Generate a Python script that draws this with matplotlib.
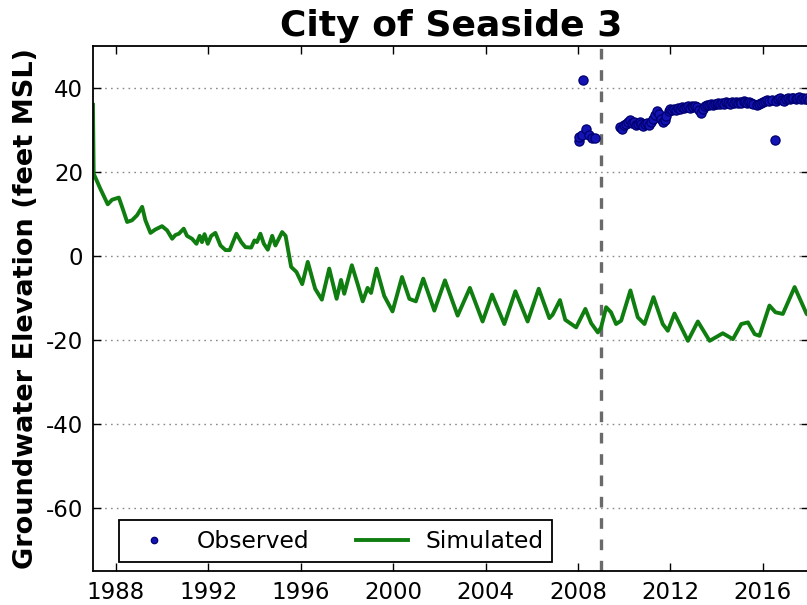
import matplotlib
matplotlib.use("Agg")
import matplotlib.pyplot as plt

# Simulated groundwater elevation (decimal year, feet MSL)
sim_year = [
    1987.00, 1987.03, 1987.32, 1987.64, 1987.83, 1988.12, 1988.26, 1988.48,
    1988.69, 1988.91, 1989.13, 1989.27, 1989.49, 1989.70, 1989.99, 1990.21,
    1990.43, 1990.57, 1990.72, 1990.93, 1991.07, 1991.29, 1991.48, 1991.62,
    1991.72, 1991.83, 1991.97, 1992.12, 1992.30, 1992.52, 1992.74, 1992.92,
    1993.21, 1993.42, 1993.60, 1993.85, 1993.99, 1994.10, 1994.25, 1994.40,
    1994.57, 1994.76, 1994.90, 1995.19, 1995.34, 1995.58, 1995.81, 1996.06,
    1996.30, 1996.62, 1996.91, 1997.23, 1997.55, 1997.74, 1997.88, 1998.21,
    1998.46, 1998.68, 1998.89, 1999.04, 1999.28, 1999.61, 1999.97, 2000.38,
    2000.70, 2000.98, 2001.30, 2001.78, 2002.24, 2002.79, 2003.32, 2003.87,
    2004.28, 2004.81, 2005.29, 2005.82, 2006.30, 2006.76, 2006.90, 2007.22,
    2007.45, 2007.92, 2008.32, 2008.57, 2008.86, 2009.00, 2009.22, 2009.43,
    2009.65, 2009.87, 2010.27, 2010.59, 2010.88, 2011.27, 2011.67, 2011.89,
    2012.18, 2012.76, 2013.19, 2013.70, 2014.27, 2014.71, 2015.07, 2015.36,
    2015.65, 2015.86, 2016.29, 2016.55, 2016.87, 2017.38, 2017.90, 2018.10,
]
sim_ft = [
    36.0, 19.6, 16.0, 12.3, 13.4, 13.9, 11.7, 8.1,
    8.5, 9.7, 11.7, 8.5, 5.5, 6.3, 7.1, 6.1,
    4.1, 5.0, 5.3, 6.5, 4.8, 4.1, 2.9, 4.8,
    3.3, 5.2, 2.9, 4.8, 5.5, 2.5, 1.4, 1.4,
    5.3, 3.3, 2.1, 2.0, 3.7, 3.3, 5.3, 2.9,
    1.5, 4.8, 2.5, 5.7, 4.8, -2.6, -3.8, -6.7,
    -1.4, -7.8, -10.4, -3.0, -10.2, -5.7, -9.0, -2.2,
    -6.7, -10.8, -7.6, -8.8, -3.0, -9.5, -13.2, -5.0,
    -10.2, -10.8, -5.4, -13.0, -5.8, -14.2, -7.6, -15.6,
    -9.2, -16.2, -8.4, -15.6, -7.8, -14.8, -14.0, -10.5,
    -15.2, -17.0, -12.6, -16.0, -18.2, -17.0, -12.2, -13.4,
    -16.2, -15.4, -8.2, -14.6, -16.2, -9.8, -16.2, -17.8,
    -13.7, -20.2, -15.6, -20.2, -18.4, -19.8, -16.2, -15.8,
    -18.6, -19.0, -11.8, -13.4, -13.8, -7.4, -13.8, -14.5,
]

# Observed groundwater elevation (decimal year, feet MSL)
obs_year = [
    2008.04, 2008.06, 2008.19, 2008.23, 2008.36, 2008.49, 2008.62, 2008.74,
    2009.83, 2009.92, 2010.00, 2010.08, 2010.17, 2010.25, 2010.33, 2010.42,
    2010.50, 2010.58, 2010.67, 2010.75, 2010.83, 2010.92, 2011.00, 2011.08,
    2011.17, 2011.25, 2011.33, 2011.42, 2011.50, 2011.58, 2011.67, 2011.75,
    2011.83, 2011.92, 2012.00, 2012.08, 2012.17, 2012.25, 2012.33, 2012.42,
    2012.50, 2012.58, 2012.67, 2012.75, 2012.83, 2012.92, 2013.00, 2013.08,
    2013.17, 2013.25, 2013.33, 2013.42, 2013.50, 2013.58, 2013.67, 2013.75,
    2013.83, 2013.92, 2014.00, 2014.08, 2014.17, 2014.25, 2014.33, 2014.42,
    2014.50, 2014.58, 2014.67, 2014.75, 2014.83, 2014.92, 2015.00, 2015.08,
    2015.17, 2015.25, 2015.33, 2015.42, 2015.50, 2015.58, 2015.75, 2015.83,
    2015.92, 2016.00, 2016.08, 2016.17, 2016.25, 2016.42, 2016.51, 2016.58,
    2016.67, 2016.75, 2016.83, 2016.92, 2017.00, 2017.08, 2017.17, 2017.25,
    2017.33, 2017.42, 2017.50, 2017.58, 2017.67, 2017.75, 2017.83, 2017.92,
    2018.00,
]
obs_ft = [
    27.4, 28.3, 28.7, 42.0, 30.3, 28.7, 28.2, 28.0,
    30.6, 30.3, 31.2, 31.5, 32.0, 32.3, 31.6, 31.9,
    31.2, 31.5, 31.9, 31.4, 31.0, 31.5, 31.7, 31.2,
    31.8, 32.6, 33.6, 34.5, 33.8, 32.6, 32.0, 32.4,
    33.4, 34.5, 35.1, 34.8, 35.0, 34.7, 35.2, 35.0,
    35.4, 35.2, 35.5, 35.6, 35.3, 35.7, 35.5, 35.8,
    35.4, 34.8, 34.1, 35.1, 35.8, 36.0, 35.9, 36.2,
    36.0, 36.3, 36.1, 36.4, 36.2, 36.5, 36.3, 36.6,
    36.4, 36.3, 36.6, 36.5, 36.7, 36.4, 36.6, 36.5,
    36.8, 36.6, 36.4, 36.7, 36.5, 36.3, 35.9, 36.1,
    36.4, 36.7, 36.9, 37.1, 36.8, 37.2, 27.5, 37.0,
    37.3, 37.5, 37.2, 37.0, 37.4, 37.6, 37.3, 37.7,
    37.5, 37.3, 37.6, 37.8, 37.4, 37.6, 37.3, 37.5,
    37.2,
]

calibration_end = 2009.0
x_ticks = [1988, 1992, 1996, 2000, 2004, 2008, 2012, 2016]
y_ticks = [-60, -40, -20, 0, 20, 40]

plt.rcParams["font.family"] = ["DejaVu Sans"]
plt.rcParams["axes.unicode_minus"] = False

fig = plt.figure(figsize=(8.07, 6.05), dpi=100)
ax = fig.add_axes([0.1152, 0.0562, 0.8872, 0.8678])

ax.plot(obs_year, obs_ft, linestyle="none", marker="o", markersize=6.6,
        markerfacecolor="#1414b4", markeredgecolor="#000070",
        markeredgewidth=0.9, label="Observed", zorder=3)
ax.plot(sim_year, sim_ft, color="#0f7d0f", linewidth=2.8,
        solid_joinstyle="round", label="Simulated", zorder=2)
ax.axvline(calibration_end, color="#6a6a6a", linewidth=2.4,
           linestyle=(0, (3.2, 3.2)), zorder=1)

ax.set_xlim(1987, 2018)
ax.set_ylim(-75, 50)
ax.set_xticks(x_ticks)
ax.set_yticks(y_ticks)
ax.tick_params(axis="both", direction="in", length=6, width=1,
               top=True, right=True, labelsize=16.5, pad=7)
ax.yaxis.grid(True, color="#8c8c8c", linestyle=(0, (1.2, 3)), linewidth=1)
ax.set_axisbelow(True)
for side in ax.spines.values():
    side.set_linewidth(1.3)

ax.set_title("City of Seaside 3", fontsize=26, fontweight="bold", pad=7)
ax.set_ylabel("Groundwater Elevation (feet MSL)", fontsize=19.5,
              fontweight="bold", labelpad=5)

leg = ax.legend(loc="lower left", bbox_to_anchor=(0.036, 0.017),
                borderaxespad=0, ncol=2, fontsize=16.8, numpoints=1,
                markerscale=0.7, handlelength=2.2, handletextpad=0.75,
                columnspacing=2.0, borderpad=0.4, fancybox=False,
                framealpha=1)
leg.get_frame().set_edgecolor("black")
leg.get_frame().set_linewidth(1.3)

fig.savefig("out.png", dpi=100)
